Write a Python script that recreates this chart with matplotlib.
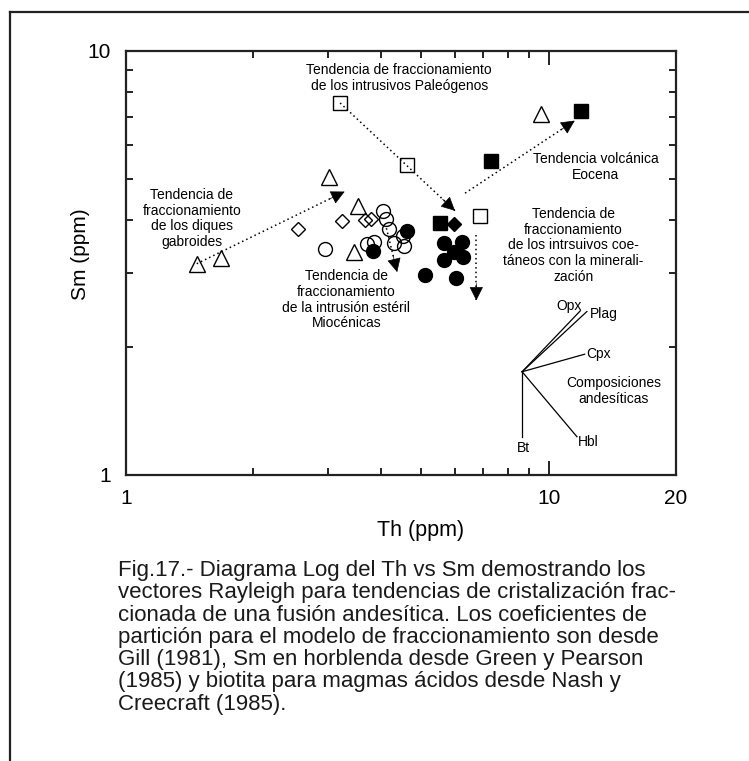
import numpy as np
import matplotlib
matplotlib.use("Agg")
import matplotlib.pyplot as plt
from matplotlib.lines import Line2D
from matplotlib.ticker import FixedLocator, NullFormatter

plt.rcParams["font.family"] = ["Liberation Sans", "DejaVu Sans"]

# --- data (Th ppm, Sm ppm) ---
tri_th = [1.47, 1.68, 3.02, 3.53, 3.46, 9.61]
tri_sm = [3.15, 3.25, 5.05, 4.31, 3.36, 7.10]

dia_th = [2.55, 3.24, 3.67, 3.80]
dia_sm = [3.80, 3.98, 3.99, 4.01]

ocirc_th = [2.96, 4.06, 4.13, 4.19, 4.31, 4.53, 4.55, 3.72, 3.87]
ocirc_sm = [3.41, 4.20, 4.02, 3.80, 3.53, 3.66, 3.47, 3.51, 3.54]

fcirc_th = [3.85, 4.63, 5.10, 6.03, 5.65, 6.25, 5.65, 6.27, 5.97]
fcirc_sm = [3.38, 3.77, 2.96, 2.91, 3.52, 3.55, 3.22, 3.26, 3.36]

osq_th = [3.21, 4.63, 6.88]
osq_sm = [7.54, 5.39, 4.08]

fsq_th = [5.53, 7.29, 11.9]
fsq_sm = [3.94, 5.51, 7.23]

fdia_th = [5.97]
fdia_sm = [3.91]

# fractionation trends: (start Th, start Sm, tip Th, tip Sm)
trends = [
    (1.47, 3.15, 3.29, 4.66),   # diques gabroides
    (3.21, 7.54, 6.00, 4.20),   # intrusivos Paleogenos
    (6.34, 4.62, 11.52, 6.85),  # volcanica Eocena
    (6.74, 3.68, 6.74, 2.58),   # intrusivos coetaneos
    (4.13, 3.82, 4.38, 3.01),   # intrusion esteril
]

# Rayleigh vectors for andesitic compositions
vec_origin = (8.65, 1.752)
vec_names = ["Bt", "Hbl", "Cpx", "Plag", "Opx"]
vec_th = [8.65, 11.66, 12.16, 12.31, 11.88]
vec_sm = [1.231, 1.231, 1.927, 2.43, 2.44]

caption = ("Fig.17.- Diagrama Log del Th vs Sm demostrando los\n"
           "vectores Rayleigh para tendencias de cristalización frac-\n"
           "cionada de una fusión andesítica. Los coeficientes de\n"
           "partición para el modelo de fraccionamiento son desde\n"
           "Gill (1981), Sm en horblenda desde Green y Pearson\n"
           "(1985) y biotita para magmas ácidos desde Nash y\n"
           "Creecraft (1985).")

W, H = 749, 761
fig = plt.figure(figsize=(W / 100, H / 100), dpi=100)
ax = fig.add_axes([126 / W, 1 - 475 / H, 550 / W, 424 / H])

# outer frame of the page
fig.add_artist(Line2D([10 / W, 10 / W], [0, 1 - 12 / H], transform=fig.transFigure, color="#222", lw=1.6))
fig.add_artist(Line2D([10 / W, 1], [1 - 12 / H, 1 - 12 / H], transform=fig.transFigure, color="#222", lw=1.6))


def trend(ax, x0, y0, x1, y1):
    ax.plot([x0, x1], [y0, y1], color="k", lw=1.1, ls=(0, (1, 2)), zorder=1)
    lx = np.log10([x0, x1])
    ly = np.log10([y0, y1])
    d = np.array([lx[1] - lx[0], ly[1] - ly[0]])
    d /= np.hypot(*d)
    bx, by = 10 ** (lx[1] - 0.04 * d[0]), 10 ** (ly[1] - 0.04 * d[1])
    ax.annotate("", xy=(x1, y1), xytext=(bx, by),
                arrowprops=dict(arrowstyle="-|>", color="k", lw=0.5,
                                shrinkA=0, shrinkB=0, mutation_scale=22))


for t in trends:
    trend(ax, *t)

mk = dict(ls="none", color="k", mew=1.0)
ax.plot(tri_th, tri_sm, marker="^", ms=11, mfc="none", **mk)
ax.plot(dia_th, dia_sm, marker="D", ms=7.5, mfc="none", **mk)
ax.plot(ocirc_th, ocirc_sm, marker="o", ms=10, mfc="none", **mk)
ax.plot(fcirc_th, fcirc_sm, marker="o", ms=10, mfc="k", **mk)
ax.plot(osq_th, osq_sm, marker="s", ms=10, mfc="none", **mk)
ax.plot(fsq_th, fsq_sm, marker="s", ms=10, mfc="k", **mk)
ax.plot(fdia_th, fdia_sm, marker="D", ms=7.5, mfc="k", **mk)

# vector diagram
for name, vx, vy in zip(vec_names, vec_th, vec_sm):
    ax.plot([vec_origin[0], vx], [vec_origin[1], vy], color="k", lw=0.9)
fs = 10
ax.text(8.73, 1.158, "Bt", ha="center", va="center", fontsize=fs)
ax.text(11.7, 1.198, "Hbl", ha="left", va="center", fontsize=fs)
ax.text(12.3, 1.93, "Cpx", ha="left", va="center", fontsize=fs)
ax.text(12.5, 2.40, "Plag", ha="left", va="center", fontsize=fs)
ax.text(11.2, 2.50, "Opx", ha="center", va="center", fontsize=fs)
ax.text(14.23, 1.58, "Composiciones\nandesíticas", ha="center", va="center", fontsize=fs, linespacing=1.15)

# trend labels
ax.text(4.43, 8.64, "Tendencia de fraccionamiento\nde los intrusivos Paleógenos",
        ha="center", va="center", fontsize=fs, linespacing=1.15)
ax.text(1.43, 4.03, "Tendencia de\nfraccionamiento\nde los diques\ngabroides",
        ha="center", va="center", fontsize=fs, linespacing=1.15)
ax.text(3.32, 2.59, "Tendencia de\nfraccionamiento\nde la intrusión estéril\nMiocénicas",
        ha="center", va="center", fontsize=fs, linespacing=1.15)
ax.text(12.9, 5.33, "Tendencia volcánica\nEocena", ha="center", va="center", fontsize=fs, linespacing=1.15)
ax.text(11.45, 3.48, "Tendencia de\nfraccionamiento\nde los intrsuivos coe-\ntáneos con la minerali-\nzación",
        ha="center", va="center", fontsize=fs, linespacing=1.15)

ax.set_xscale("log")
ax.set_yscale("log")
ax.set_xlim(1, 20)
ax.set_ylim(1, 10)
ax.xaxis.set_major_locator(FixedLocator([1, 10, 20]))
ax.xaxis.set_minor_locator(FixedLocator(range(2, 10)))
ax.yaxis.set_major_locator(FixedLocator([1, 10]))
ax.yaxis.set_minor_locator(FixedLocator(range(2, 10)))
ax.set_xticklabels(["1", "10", "20"])
ax.set_yticklabels(["1", "10"])
ax.xaxis.set_minor_formatter(NullFormatter())
ax.yaxis.set_minor_formatter(NullFormatter())
ax.tick_params(which="both", direction="in", top=True, right=True, width=1.4, color="#222", labelsize=15)
ax.tick_params(which="major", length=10)
ax.tick_params(which="minor", length=5)
ax.tick_params(axis="x", pad=10)
ax.tick_params(axis="y", pad=11)
for s in ax.spines.values():
    s.set_linewidth(1.6)
    s.set_color("#222")

ax.set_xlabel("Th (ppm)", fontsize=15.5)
ax.xaxis.set_label_coords((421 - 126) / 550, -0.105)
ax.set_ylabel("Sm (ppm)", fontsize=15)
ax.yaxis.set_label_coords(-0.065, 0.52)

fig.text(118 / W, 1 - 560 / H, caption, ha="left", va="top", fontsize=16, linespacing=1.08, color="#1a1a1a")

fig.savefig("out.png", dpi=100)
